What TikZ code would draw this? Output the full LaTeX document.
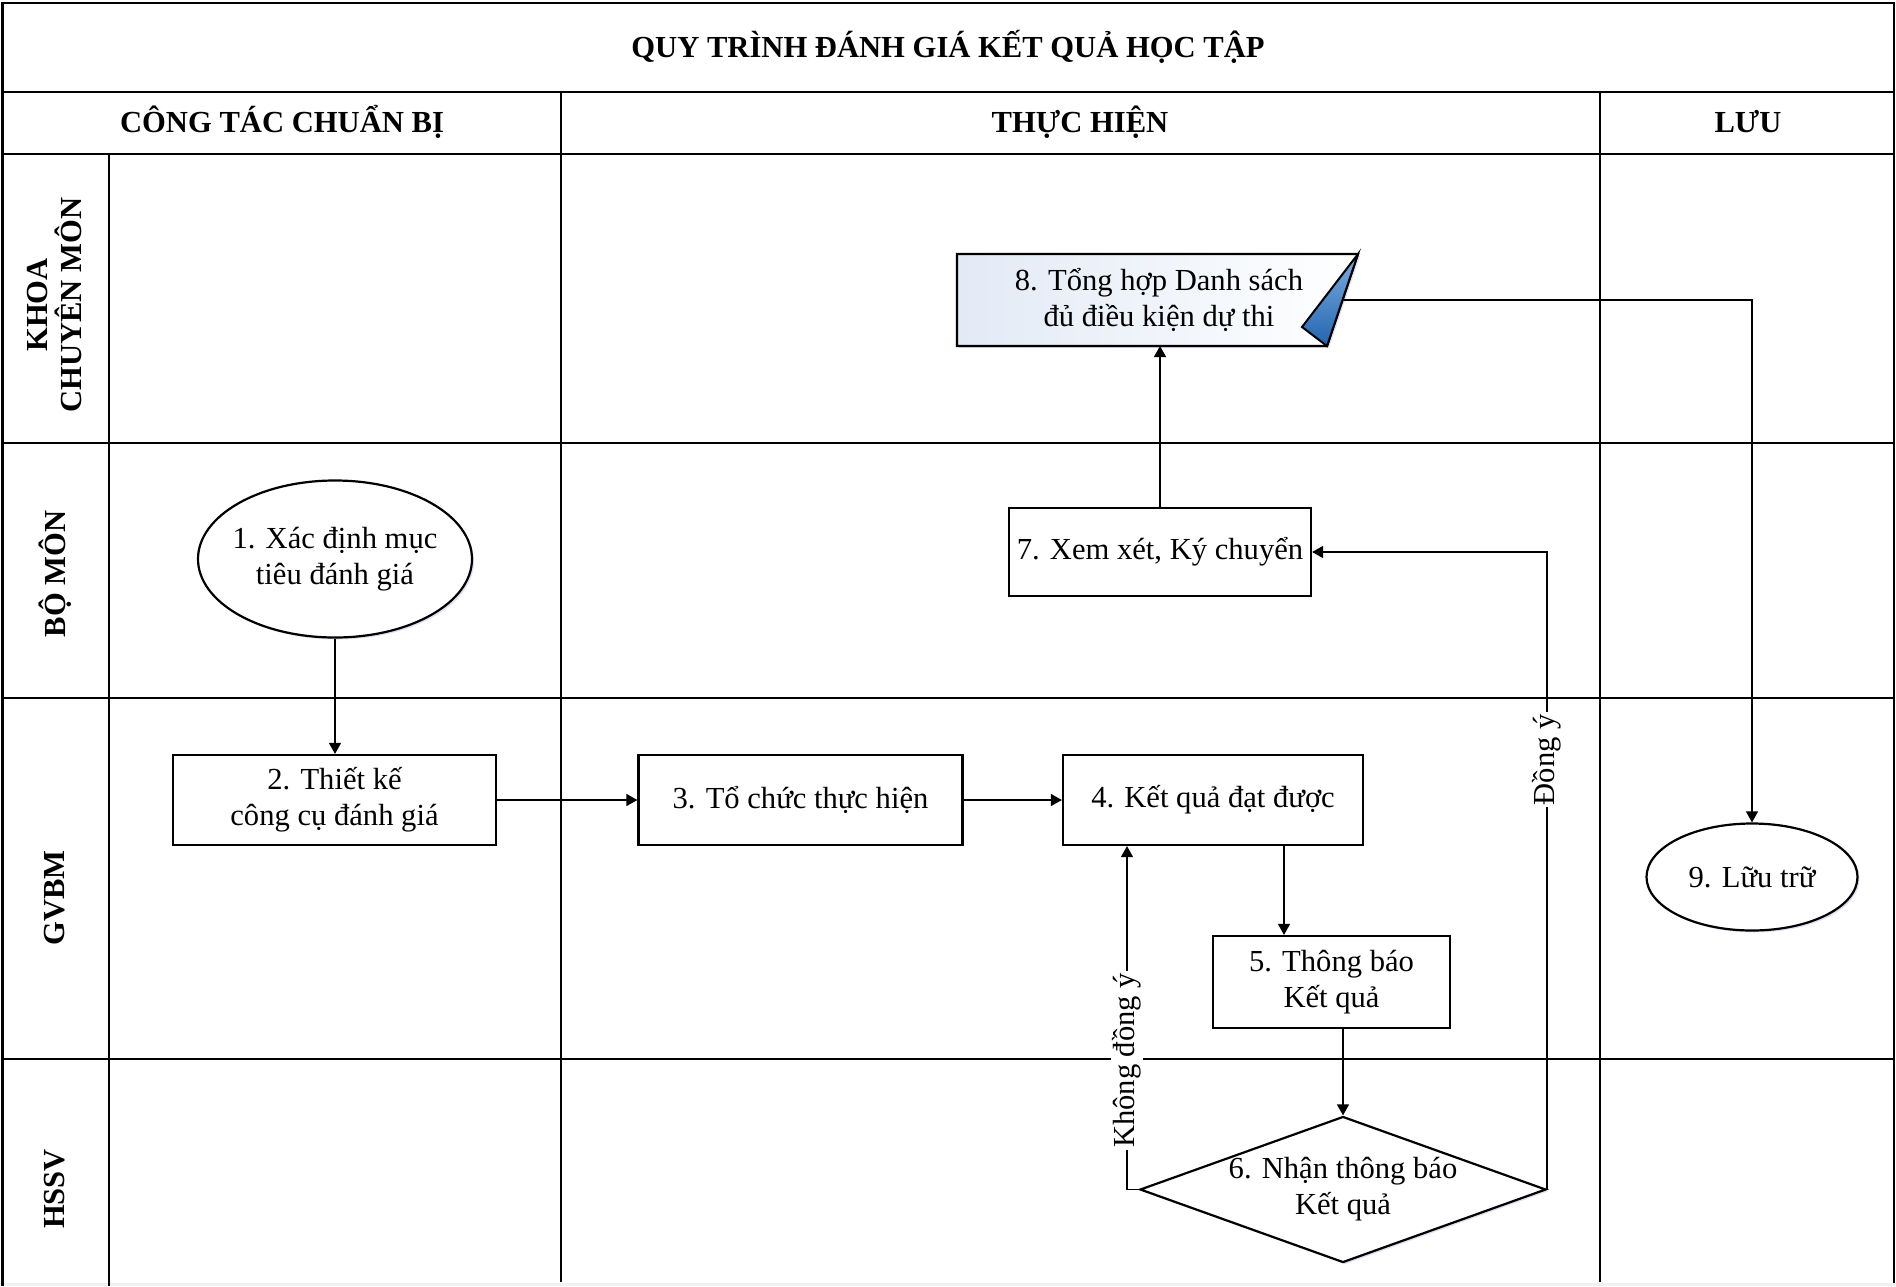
\documentclass[tikz,border=0pt]{standalone}
\usepackage{fontspec}
\setmainfont{Liberation Serif}
\usetikzlibrary{arrows.meta,shapes.geometric,calc,shadows}
\definecolor{foldlight}{RGB}{125,175,225}
\definecolor{folddark}{RGB}{35,100,175}
\definecolor{docfill}{RGB}{226,234,246}
\begin{document}
\begin{tikzpicture}[x=0.5pt,y=-0.5pt,
  font=\fontsize{15.3}{18}\selectfont,
  outerline/.style={line width=1.4pt},
  gridline/.style={line width=1pt},
  glow/.style={drop shadow={shadow xshift=1pt,shadow yshift=-1pt,fill=blue!40!gray!40,opacity=0.45}},
  stepbox/.style={draw, rectangle, line width=1.1pt, inner sep=0pt, align=center, fill=white},
  oval/.style={draw, ellipse, line width=1.1pt, inner sep=0pt, align=center, fill=white, glow},
  conn/.style={line width=0.65pt, -{Triangle[length=5.5pt,width=6pt]}},
  hdr/.style={font=\fontsize{15.3}{18}\selectfont\bfseries},
  lanelbl/.style={font=\fontsize{15.3}{17}\selectfont\bfseries, rotate=90, align=center},
  edgelbl/.style={rotate=90, fill=white, inner sep=1pt}]
\useasboundingbox (0,0) rectangle (1896,1286);
\fill[gray!12] (0,1283) rectangle (1896,1286);

% frame and swimlanes
\draw[outerline] (2.5,1286) -- (2.5,3) -- (1894,3) -- (1894,1283);
\draw[gridline] (2.5,92) -- (1894,92);
\draw[gridline] (2.5,154) -- (1894,154);
\draw[gridline] (2.5,443) -- (1894,443);
\draw[gridline] (2.5,698) -- (1894,698);
\draw[gridline] (2.5,1059) -- (1894,1059);
\draw[gridline] (109,154) -- (109,1286);
\draw[gridline] (561,92) -- (561,1282);
\draw[gridline] (1600,92) -- (1600,1282);

% headers
\node[hdr] (title) at (948,47) {QUY TRÌNH ĐÁNH GIÁ KẾT QUẢ HỌC TẬP};
\node[hdr] (hprep) at (282,122) {CÔNG TÁC CHUẨN BỊ};
\node[hdr] (hdo) at (1080,122) {THỰC HIỆN};
\node[hdr] (hkeep) at (1748,122) {LƯU};

% lane labels
\node[lanelbl] (lkhoa) at (55,305) {KHOA\\CHUYÊN MÔN};
\node[lanelbl] (lbomon) at (55,574) {BỘ MÔN};
\node[lanelbl] (lgvbm) at (55,898) {GVBM};
\node[lanelbl] (lhssv) at (55,1189) {HSSV};

% steps
\node[oval, inner xsep=-3pt, minimum width=137pt, minimum height=78.5pt] (n1) at (335,559) {1. Xác định mục\\tiêu đánh giá};
\node[stepbox, minimum width=161.5pt, minimum height=45pt] (n2) at (334.5,800) {2. Thiết kế\\công cụ đánh giá};
\node[stepbox, minimum width=162pt, minimum height=45pt] (n3) at (800.5,800) {3. Tổ chức thực hiện};
\node[stepbox, minimum width=150pt, minimum height=45pt] (n4) at (1213,800) {4. Kết quả đạt được};
\node[stepbox, minimum width=118.5pt, minimum height=46pt] (n5) at (1331.5,982) {5. Thông báo\\Kết quả};
\node[draw, diamond, line width=1.1pt, inner sep=0pt, align=center, fill=white, glow,
      shape aspect=2.78, minimum width=200pt, minimum height=72pt] (n6) at (1343,1189.5) {6. Nhận thông báo\\Kết quả};
\node[stepbox, minimum width=151pt, minimum height=44pt] (n7) at (1160,552) {7. Xem xét, Ký chuyển};
\node[rectangle, inner sep=0pt, outer sep=0pt, minimum width=185pt, minimum height=46pt] (n8) at (1142,300) {};
\path[draw, line width=1.1pt, left color=docfill, right color=white, glow]
  (n8.north west) -- ($(n8.north east)+(31,0)$) -- (n8.south east) -- (n8.south west) -- cycle;
\path[draw, line width=1pt, top color=foldlight, bottom color=folddark]
  ($(n8.north east)+(31,0)$) -- (n8.south east) -- ($(n8.south east)+(-25,-19)$) -- cycle;
\node[align=center] (t8) at ($(n8.center)+(17,0)$) {8. Tổng hợp Danh sách\\đủ điều kiện dự thi};
\node[oval, minimum width=105.5pt, minimum height=53.5pt] (n9) at (1752,877) {9. Lữu trữ};

% helper coordinates
\coordinate (c45) at (1284,900);
\coordinate (c64) at (1127,1000);
\coordinate (c8out) at ($(n8.east)+(15.5,0)$);

% connectors
\draw[conn] (n1.south) -- (n1.south |- n2.north);
\draw[conn] (n2.east) -- (n3.west);
\draw[conn] (n3.east) -- (n4.west);
\draw[conn] (n4.south -| c45) -- (n5.north -| c45);
\draw[conn] (n5.south -| n6.north) -- (n6.north);
\draw[conn] (n6.west) -| (n4.south -| c64) node[pos=0.688, edgelbl] {Không đồng ý};
\draw[conn] (n6.east) |- (n7.east) node[pos=0.337, edgelbl] {Đồng ý};
\draw[conn] (n7.north) -- (n7.north |- n8.south);
\draw[conn] (c8out) -| (n9.north);
\end{tikzpicture}
\end{document}
